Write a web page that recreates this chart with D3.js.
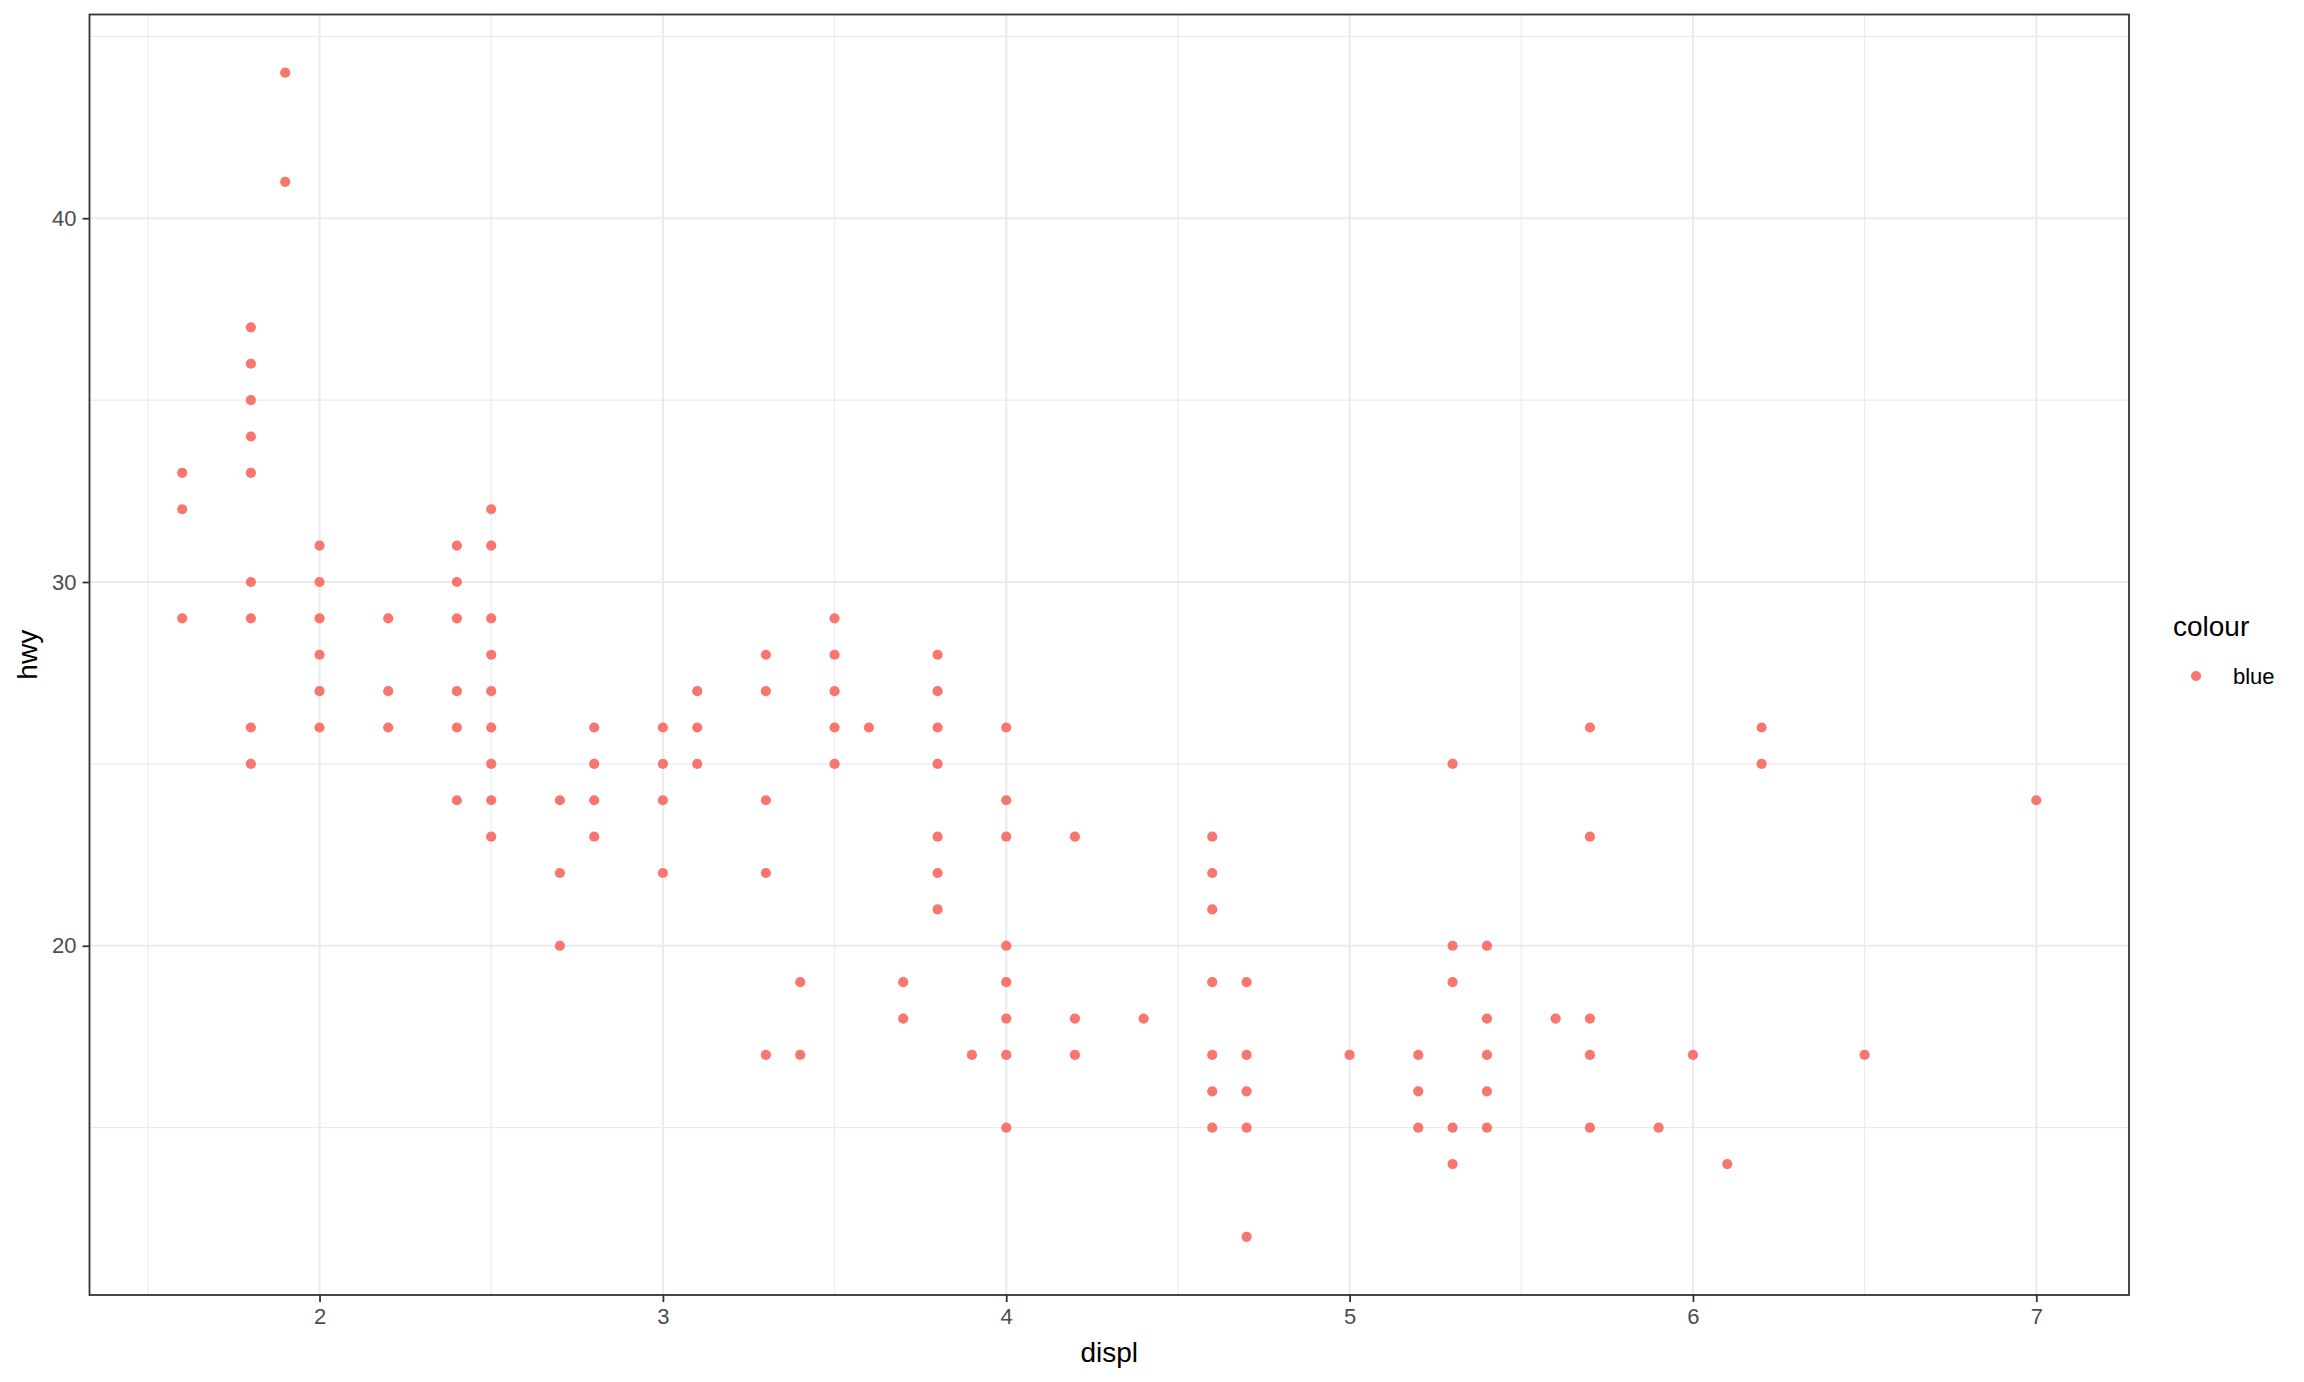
<!DOCTYPE html>
<html>
<head>
<meta charset="utf-8">
<script src="https://cdn.jsdelivr.net/npm/d3@7"></script>
<style>
  body { margin: 0; background: #fff; }
  text { font-family: "Liberation Sans", Arial, sans-serif; }
</style>
</head>
<body>
<svg id="chart" width="2304" height="1382"></svg>
<script>
// distinct (displ, hwy) pairs from mpg
var displ = [
  1.6, 1.6, 1.6,
  1.8, 1.8, 1.8, 1.8, 1.8, 1.8, 1.8, 1.8, 1.8,
  1.9, 1.9,
  2.0, 2.0, 2.0, 2.0, 2.0, 2.0,
  2.2, 2.2, 2.2,
  2.4, 2.4, 2.4, 2.4, 2.4, 2.4,
  2.5, 2.5, 2.5, 2.5, 2.5, 2.5, 2.5, 2.5, 2.5,
  2.7, 2.7, 2.7,
  2.8, 2.8, 2.8, 2.8,
  3.0, 3.0, 3.0, 3.0,
  3.1, 3.1, 3.1,
  3.3, 3.3, 3.3, 3.3, 3.3,
  3.4, 3.4,
  3.5, 3.5, 3.5, 3.5, 3.5,
  3.6,
  3.7, 3.7,
  3.8, 3.8, 3.8, 3.8, 3.8, 3.8, 3.8,
  3.9,
  4.0, 4.0, 4.0, 4.0, 4.0, 4.0, 4.0, 4.0,
  4.2, 4.2, 4.2,
  4.4,
  4.6, 4.6, 4.6, 4.6, 4.6, 4.6, 4.6,
  4.7, 4.7, 4.7, 4.7, 4.7,
  5.0,
  5.2, 5.2, 5.2,
  5.3, 5.3, 5.3, 5.3, 5.3,
  5.4, 5.4, 5.4, 5.4, 5.4,
  5.6,
  5.7, 5.7, 5.7, 5.7, 5.7,
  5.9,
  6.0,
  6.1,
  6.2, 6.2,
  6.5,
  7.0
];
var hwy = [
  33, 32, 29,
  37, 36, 35, 34, 33, 30, 29, 26, 25,
  44, 41,
  31, 30, 29, 28, 27, 26,
  29, 27, 26,
  31, 30, 29, 27, 26, 24,
  32, 31, 29, 28, 27, 26, 25, 24, 23,
  24, 22, 20,
  26, 25, 24, 23,
  26, 25, 24, 22,
  27, 26, 25,
  28, 27, 24, 22, 17,
  19, 17,
  29, 28, 27, 26, 25,
  26,
  19, 18,
  28, 27, 26, 25, 23, 22, 21,
  17,
  26, 24, 23, 20, 19, 18, 17, 15,
  23, 18, 17,
  18,
  23, 22, 21, 19, 17, 16, 15,
  19, 17, 16, 15, 12,
  17,
  17, 16, 15,
  25, 20, 19, 15, 14,
  20, 18, 17, 16, 15,
  18,
  26, 23, 18, 17, 15,
  15,
  17,
  14,
  26, 25,
  17,
  24
];

var xTicks = [2, 3, 4, 5, 6, 7];
var xMinor = [1.5, 2.5, 3.5, 4.5, 5.5, 6.5];
var yTicks = [20, 30, 40];
var yMinor = [15, 25, 35, 45];
var legendLabels = ["blue"];

var pointColor = "#F8766D";

var margin = { left: 89.5, right: 2129, top: 14.5, bottom: 1295 };

var svg = d3.select("#chart");

// ggplot-like 5% expansion of the data range
var xExt = d3.extent(displ), yExt = d3.extent(hwy);
var xPad = (xExt[1] - xExt[0]) * 0.05, yPad = (yExt[1] - yExt[0]) * 0.05;

var x = d3.scaleLinear()
  .domain([xExt[0] - xPad, xExt[1] + xPad])
  .range([margin.left, margin.right]);
var y = d3.scaleLinear()
  .domain([yExt[0] - yPad, yExt[1] + yPad])
  .range([margin.bottom, margin.top]);

var grid = svg.append("g");

// minor grid
grid.selectAll(".xminor").data(xMinor).enter().append("line")
  .attr("x1", d => x(d)).attr("x2", d => x(d))
  .attr("y1", margin.top).attr("y2", margin.bottom)
  .attr("stroke", "#EBEBEB").attr("stroke-width", 1.1);
grid.selectAll(".yminor").data(yMinor.filter(d => y(d) > margin.top)).enter().append("line")
  .attr("x1", margin.left).attr("x2", margin.right)
  .attr("y1", d => y(d)).attr("y2", d => y(d))
  .attr("stroke", "#EBEBEB").attr("stroke-width", 1.1);

// major grid
grid.selectAll(".xmajor").data(xTicks).enter().append("line")
  .attr("x1", d => x(d)).attr("x2", d => x(d))
  .attr("y1", margin.top).attr("y2", margin.bottom)
  .attr("stroke", "#EBEBEB").attr("stroke-width", 2.1);
grid.selectAll(".ymajor").data(yTicks).enter().append("line")
  .attr("x1", margin.left).attr("x2", margin.right)
  .attr("y1", d => y(d)).attr("y2", d => y(d))
  .attr("stroke", "#EBEBEB").attr("stroke-width", 2.1);

// points
svg.append("g").selectAll("circle")
  .data(displ.map((d, i) => ({ x: d, y: hwy[i] })))
  .enter().append("circle")
  .attr("cx", d => x(d.x))
  .attr("cy", d => y(d.y))
  .attr("r", 5.1)
  .attr("fill", pointColor);

// panel border
svg.append("rect")
  .attr("x", margin.left).attr("y", margin.top)
  .attr("width", margin.right - margin.left)
  .attr("height", margin.bottom - margin.top)
  .attr("fill", "none").attr("stroke", "#333333").attr("stroke-width", 1.8);

// axes
var xAxis = svg.append("g")
  .attr("transform", "translate(0," + margin.bottom + ")")
  .call(d3.axisBottom(x).tickValues(xTicks).tickSize(7).tickPadding(6).tickFormat(d3.format("d")));
var yAxis = svg.append("g")
  .attr("transform", "translate(" + margin.left + ",0)")
  .call(d3.axisLeft(y).tickValues(yTicks).tickSize(7).tickPadding(6).tickFormat(d3.format("d")));

[xAxis, yAxis].forEach(function (ax) {
  ax.select(".domain").remove();
  ax.selectAll(".tick line").attr("stroke", "#333333").attr("stroke-width", 1.8);
  ax.selectAll(".tick text")
    .attr("fill", "#4D4D4D")
    .style("font-size", "22px")
    .style("font-family", "'Liberation Sans', Arial, sans-serif");
});

// axis titles
svg.append("text")
  .attr("x", (margin.left + margin.right) / 2)
  .attr("y", 1362)
  .attr("text-anchor", "middle")
  .style("font-size", "28px")
  .text("displ");

svg.append("text")
  .attr("transform", "translate(37," + (margin.top + margin.bottom) / 2 + ") rotate(-90)")
  .attr("text-anchor", "middle")
  .style("font-size", "28px")
  .text("hwy");

// legend
var legend = svg.append("g");
legend.append("text")
  .attr("x", 2173).attr("y", 636)
  .style("font-size", "28px")
  .text("colour");

var items = legend.selectAll(".item").data(legendLabels).enter().append("g")
  .attr("transform", (d, i) => "translate(0," + (676 + i * 35) + ")");
items.append("circle")
  .attr("cx", 2196).attr("cy", 0).attr("r", 5.1)
  .attr("fill", pointColor);
items.append("text")
  .attr("x", 2233).attr("y", 0).attr("dy", "0.35em")
  .style("font-size", "22px")
  .text(d => d);
</script>
</body>
</html>
